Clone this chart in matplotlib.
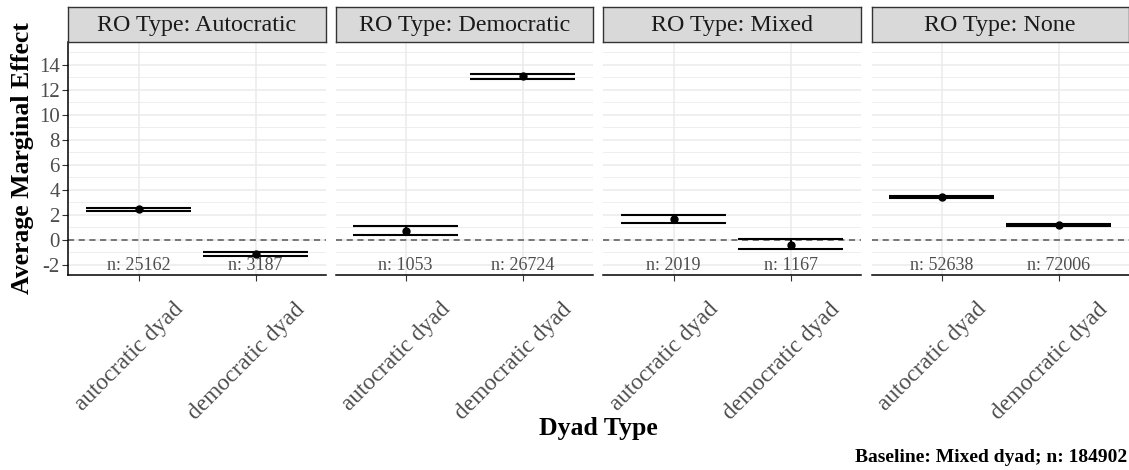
import numpy as np
import matplotlib
matplotlib.use("Agg")
import matplotlib.pyplot as plt
import matplotlib.transforms as mtransforms

plt.rcParams['font.family'] = ['Liberation Serif', 'DejaVu Serif']
plt.rcParams['axes.unicode_minus'] = False

ro_types = ['Autocratic', 'Democratic', 'Mixed', 'None']
dyads = ['autocratic dyad', 'democratic dyad']
estimate = [[2.45, -1.15], [0.72, 13.12], [1.71, -0.37], [3.41, 1.20]]
ci_low = [[2.35, -1.28], [0.43, 12.90], [1.36, -0.69], [3.34, 1.15]]
ci_high = [[2.53, -0.99], [1.15, 13.25], [2.03, 0.08], [3.48, 1.25]]
n_obs = [[25162, 3187], [1053, 26724], [2019, 1167], [52638, 72006]]
y_ticks = [-2, 0, 2, 4, 6, 8, 10, 12, 14]

W, H = 1129, 470
fig = plt.figure(figsize=(W / 100, H / 100), dpi=100)

lefts = [68.3, 335.5, 603.3, 871.5]
pw = 257.5
bottom_px, top_px, strip_top = 275, 41.7, 7
grey_txt = '#4D4D4D'

for i, ro in enumerate(ro_types):
    ax = fig.add_axes([lefts[i] / W, 1 - bottom_px / H, pw / W, (bottom_px - top_px) / H])
    x = np.arange(1, len(dyads) + 1)
    est = np.array(estimate[i])
    lo = np.array(ci_low[i])
    hi = np.array(ci_high[i])

    ax.axhline(0, color='#555555', lw=1.1, ls=(0, (4, 3)), zorder=2)
    ax.hlines(lo, x - 0.45, x + 0.45, color='black', lw=1.5, zorder=3)
    ax.hlines(hi, x - 0.45, x + 0.45, color='black', lw=1.5, zorder=3)
    ax.vlines(x, lo, hi, color='black', lw=1.5, zorder=3)
    ax.plot(x, est, 'o', color='black', ms=5, zorder=4)
    for xi, n in zip(x, n_obs[i]):
        ax.text(xi, -2.05, f'n: {n}', ha='center', va='center', fontsize=13, color=grey_txt)

    ax.set_xlim(0.4, 2.6)
    ax.set_ylim(-2.8, 15.86)
    ax.set_yticks(y_ticks)
    ax.set_yticks(np.arange(-1, 16, 2), minor=True)
    ax.grid(which='major', color='#EBEBEB', lw=1.1)
    ax.grid(which='minor', axis='y', color='#EBEBEB', lw=0.6)
    ax.set_axisbelow(True)
    for s in ['top', 'right']:
        ax.spines[s].set_visible(False)
    ax.spines['bottom'].set_color('black')
    ax.spines['bottom'].set_linewidth(1.1)
    ax.tick_params(axis='x', which='major', length=4, color='#333333', pad=13, labelsize=16.8, labelcolor=grey_txt)
    ax.tick_params(axis='y', which='minor', length=0)
    ax.set_xticks(x)
    ax.set_xticklabels(dyads, rotation=45, ha='center', va='top')
    off = mtransforms.ScaledTranslation(-9 / 100, 0, fig.dpi_scale_trans)
    for lab in ax.get_xticklabels():
        lab.set_transform(lab.get_transform() + off)
    if i == 0:
        ax.spines['left'].set_color('black')
        ax.spines['left'].set_linewidth(1.1)
        ax.tick_params(axis='y', which='major', length=4, color='#333333', labelsize=15, labelcolor=grey_txt, pad=2)
    else:
        ax.spines['left'].set_visible(False)
        ax.tick_params(axis='y', which='major', length=0, labelleft=False)

    sax = fig.add_axes([lefts[i] / W, 1 - top_px / H, pw / W, (top_px - strip_top) / H])
    sax.set_facecolor('#D9D9D9')
    sax.set_xticks([])
    sax.set_yticks([])
    for s in sax.spines.values():
        s.set_color('#333333')
        s.set_linewidth(1.0)
    sax.text(0.5, 0.47, f'RO Type: {ro}', ha='center', va='center', fontsize=17.3,
             color='#1A1A1A', transform=sax.transAxes)

fig.text(23 / W, 1 - 158 / H, 'Average Marginal Effect', rotation=90, ha='center', va='center',
         fontsize=18.5, fontweight='bold')
fig.text(598 / W, 1 - 428 / H, 'Dyad Type', ha='center', va='center', fontsize=18.5, fontweight='bold')
fig.text(1127 / W, 1 - 458 / H, 'Baseline: Mixed dyad; n: 184902', ha='right', va='center',
         fontsize=14, fontweight='bold')

fig.savefig('out.png', dpi=100)
